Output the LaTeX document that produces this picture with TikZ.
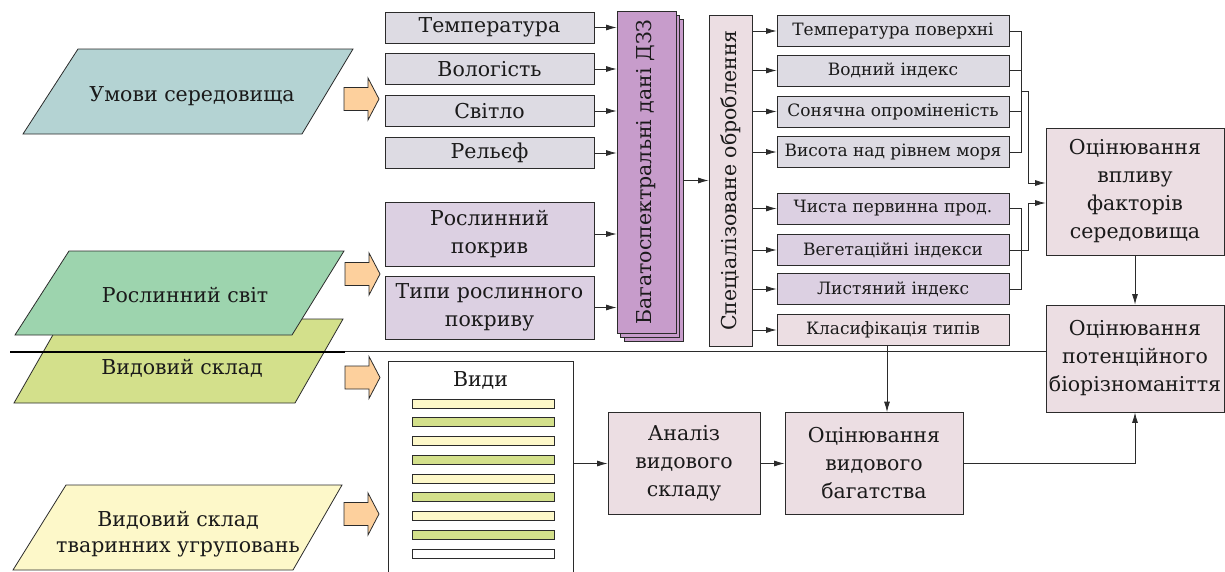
\documentclass[tikz,border=0pt]{standalone}
\usepackage{fontspec}
\setmainfont{DejaVu Serif}
\usetikzlibrary{arrows.meta,shadows}
\definecolor{lc}{HTML}{2B2B2B}
\definecolor{tc}{HTML}{1A1A1A}
\definecolor{cteal}{HTML}{B4D3D3}
\definecolor{cgreen}{HTML}{9DD4AE}
\definecolor{cyg}{HTML}{D3E08B}
\definecolor{cyel}{HTML}{FDF8C9}
\definecolor{corange}{HTML}{FDD09D}
\definecolor{cgray}{HTML}{DDDBE3}
\definecolor{clav}{HTML}{DCD0E2}
\definecolor{cpurp}{HTML}{C79CCB}
\definecolor{cpink}{HTML}{ECDEE3}
\tikzset{
  line/.style={draw=lc, line width=0.8pt},
  conn/.style={line, -{Latex[length=10.5pt,width=6pt]}},
  pshape/.style={draw=lc, line width=0.8pt},
  base/.style={draw=lc, line width=0.8pt, inner sep=0pt, align=center, text=tc},
  lbox/.style={base, fill=cgray, minimum width=209pt, minimum height=31pt},
  sbox/.style={base, fill=cgray, minimum width=232pt, minimum height=31pt, font=\fontsize{17}{20}\selectfont},
  barrow/.pic={\draw[draw=lc, line width=0.8pt, fill=corange] (0,-11.5) -- (24,-11.5) -- (24,-21) -- (35,0) -- (24,21) -- (24,11.5) -- (0,11.5) -- cycle;}
}
\begin{document}
\begin{tikzpicture}[x=1pt,y=-1pt,font=\fontsize{20.5}{28}\selectfont]
\useasboundingbox (0,0) rectangle (1225,571);
% parallelograms (input data)
\draw[pshape, fill=cyg] (62,319) -- (343,319) -- (295,403) -- (14,403) -- cycle;
\node[text=tc] (spp) at (182,368) {Видовий склад};
\draw[pshape, fill=cgreen] (69,251) -- (344,251) -- (292,335) -- (15,335) -- cycle;
\node[text=tc] (plants) at (185,295) {Рослинний світ};
\draw[pshape, fill=cteal] (78,49) -- (353,49) -- (302,134) -- (23,134) -- cycle;
\node[text=tc] (env) at (192,96) {Умови середовища};
\draw[pshape, fill=cyel] (66,485) -- (342,485) -- (293,570) -- (13,570) -- cycle;
\node[text=tc, align=center, font=\fontsize{20.5}{26}\selectfont] (animals) at (178,534) {Видовий склад\\тваринних угруповань};
% block arrows
\pic at (344,99) {barrow};
\pic at (345,274) {barrow};
\pic at (345,377.5) {barrow};
\pic at (344,514) {barrow};
% left boxes
\node[lbox] (temp) at (489.5,27.5) {Температура};
\node[lbox] (hum) at (489.5,69) {Вологість};
\node[lbox] (light) at (489.5,111) {Світло};
\node[lbox] (relief) at (489.5,153) {Рельєф};
\node[lbox, fill=clav, minimum height=64pt] (veg) at (489.5,234) {Рослинний\\покрив};
\node[lbox, fill=clav, minimum height=63pt] (vegtypes) at (489.5,307.5) {Типи рослинного\\покриву};
% remote sensing data
\node[base, fill=cpurp, double copy shadow={shadow xshift=3.5pt, shadow yshift=-4pt}, minimum width=59pt, minimum height=322pt] (dzz) at (646.5,172) {};
\node[rotate=90, text=tc] (dzzt) at (dzz.center) {Багатоспектральні дані ДЗЗ};
\foreach \n in {temp,hum,light,relief,veg,vegtypes} \draw[conn] (\n.east) -- (\n.east -| dzz.west);
% specialised processing
\node[base, fill=cpink, minimum width=43pt, minimum height=331pt] (spec) at (730.5,180.5) {};
\node[rotate=90, text=tc] (spect) at (spec.center) {Спеціалізоване оброблення};
\coordinate (dzzr) at ([xshift=7pt]dzz.east);
\draw[conn] (dzzr |- spec.west) -- (spec.west);
% right boxes
\node[sbox] (tsurf) at (893,31) {Температура поверхні};
\node[sbox] (water) at (893,70.5) {Водний індекс};
\node[sbox] (solar) at (893,111.5) {Сонячна опроміненість};
\node[sbox] (alt) at (893,152) {Висота над рівнем моря};
\node[sbox, fill=clav] (npp) at (893,208.5) {Чиста первинна прод.};
\node[sbox, fill=clav] (vegidx) at (893,250) {Вегетаційні індекси};
\node[sbox, fill=clav] (lai) at (893,289) {Листяний індекс};
\node[sbox, fill=cpink] (class) at (893,330) {Класифікація типів};
\foreach \n in {tsurf,water,solar,alt,npp,vegidx,lai,class} \draw[conn] (\n.west -| spec.east) -- (\n.west);
% assessment boxes
\node[base, fill=cpink, minimum width=178pt, minimum height=127pt] (effect) at (1135,191.5) {Оцінювання\\впливу\\факторів\\середовища};
\node[base, fill=cpink, minimum width=178pt, minimum height=107pt] (potential) at (1135,358.5) {Оцінювання\\потенційного\\біорізноманіття};
% brackets
\coordinate (ja) at (1021,91);
\draw[line] (tsurf.east) -- (tsurf.east -| ja) -- (alt.east -| ja) -- (alt.east);
\draw[line] (water.east) -- (water.east -| ja);
\draw[line] (solar.east) -- (solar.east -| ja);
\draw[conn] (ja) -- ++(7,0) |- ([yshift=8.5pt]effect.west);
\draw[line] (npp.east) -- (npp.east -| ja) -- (lai.east -| ja) -- (lai.east);
\draw[conn] (vegidx.east) -- ++(19,0) |- ([yshift=-11.5pt]effect.west);
\draw[conn] (effect.south) -- (potential.north);
% divider
\draw[line width=2.2pt, draw=black] (10,352) -- (345,352);
\draw[line] (345,351) -- (potential.west |- 0,351);
% bottom part
\node[inner sep=0pt, minimum width=185pt, minimum height=212pt, anchor=north west] (species) at (388,361) {};
\draw[line] (species.south west) -- (species.north west) -- (species.north east) -- (species.south east);
\node[text=tc] (spt) at (480.5,380) {Види};
\foreach \i/\c in {0/cyel,1/cyg,2/cyel,3/cyg,4/cyel,5/cyg,6/cyel,7/cyg,8/white}
  \draw[draw=lc, line width=0.7pt, fill=\c] (412,399+18.75*\i) rectangle ++(142,9);
\node[base, fill=cpink, minimum width=152pt, minimum height=102pt] (analysis) at (684,463.5) {Аналіз\\видового\\складу};
\node[base, fill=cpink, minimum width=178pt, minimum height=102pt] (rich) at (874,463.5) {Оцінювання\\видового\\багатства};
\coordinate (cs) at ([xshift=-6pt]class.south);
\draw[conn] (cs) -- (cs |- rich.north);
\draw[conn] (species.east |- analysis.west) -- (analysis.west);
\draw[conn] (analysis.east) -- (rich.west);
\draw[conn] (rich.east) -| (potential.south);
\end{tikzpicture}
\end{document}
